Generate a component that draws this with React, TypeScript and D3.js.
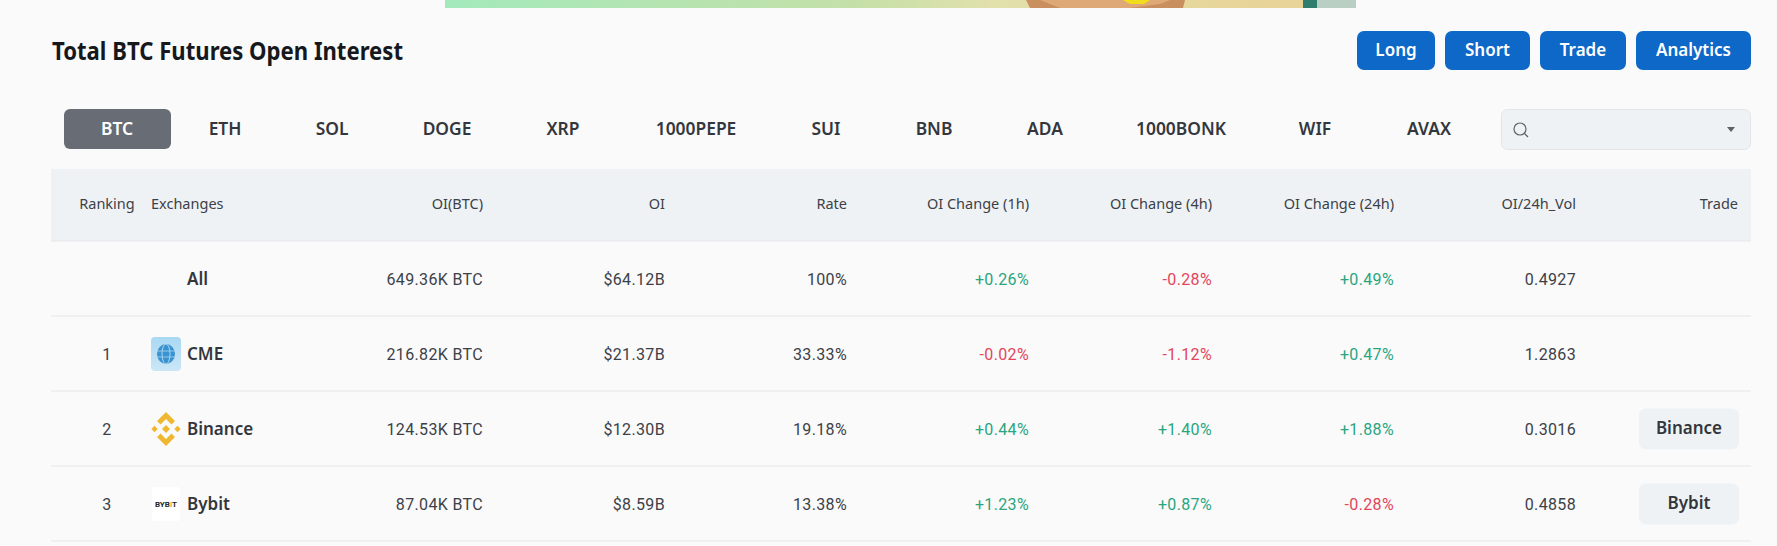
import React from "react";
import * as d3 from "d3";

const W = 1777, H = 546;
const actions = ["Long", "Short", "Trade", "Analytics"];
const actionEdges = [[1357, 1435], [1445, 1530], [1540, 1626], [1636, 1751]];
const coins = ["BTC", "ETH", "SOL", "DOGE", "XRP", "1000PEPE", "SUI", "BNB", "ADA", "1000BONK", "WIF", "AVAX"];
const coinCentres = [117, 225, 332, 447, 563, 696, 826, 934, 1045, 1181, 1315, 1429];
const headers = ["OI(BTC)", "OI", "Rate", "OI Change (1h)", "OI Change (4h)", "OI Change (24h)", "OI/24h_Vol"];
const exchanges = ["All", "CME", "Binance", "Bybit"];
const ranks = ["", "1", "2", "3"];
const oiBtc = ["649.36K BTC", "216.82K BTC", "124.53K BTC", "87.04K BTC"];
const oiUsd = ["$64.12B", "$21.37B", "$12.30B", "$8.59B"];
const rate = ["100%", "33.33%", "19.18%", "13.38%"];
const change1h = [0.26, -0.02, 0.44, 1.23];
const change4h = [-0.28, -1.12, 1.4, 0.87];
const change24h = [0.49, 0.47, 1.88, -0.28];
const oiVol = ["0.4927", "1.2863", "0.3016", "0.4858"];
const tradeLinks = ["", "", "Binance", "Bybit"];

const colRight = d3.scaleOrdinal<string, number>().domain(headers).range([483, 665, 847, 1029, 1212, 1394, 1576]);
const rowY = d3.scaleBand<string>().domain(exchanges).range([241, 541]);
const UI = "'Noto Sans', sans-serif";
const NUM = "Roboto, sans-serif";
const fmt = (v: number) => (v >= 0 ? "+" : "") + v.toFixed(2) + "%";
const GREEN = "#2aa57f", RED = "#e2465a", TEXT = "#3c4148";
const BG = "#fafafa";

function Cme({ x, y }: { x: number; y: number }) {
  return (
    <g transform={`translate(${x},${y})`}>
      <rect x={0} y={-17} width={30} height={34} rx={4} fill="url(#cmeBg)" />
      <ellipse cx={15} cy={0} rx={9} ry={10} fill="#3a93d0" />
      <ellipse cx={15} cy={0} rx={4} ry={10} fill="none" stroke="#a9d6f0" strokeWidth={1} />
      <line x1={6} x2={24} y1={-3} y2={-3} stroke="#a9d6f0" strokeWidth={0.8} />
      <line x1={6} x2={24} y1={3} y2={3} stroke="#a9d6f0" strokeWidth={0.8} />
    </g>
  );
}
function BinanceIcon({ x, y }: { x: number; y: number }) {
  const c = "#f0b731";
  return (
    <g transform={`translate(${x + 15},${y})`} fill={c}>
      <path d="M0,-17 L9,-8 L5.5,-4.5 L0,-10 L-5.5,-4.5 L-9,-8 Z" />
      <path d="M0,17 L9,8 L5.5,4.5 L0,10 L-5.5,4.5 L-9,8 Z" />
      <path d="M0,-4 L4,0 L0,4 L-4,0 Z" />
      <path d="M-11.5,-3.2 L-8.3,0 L-11.5,3.2 L-14.7,0 Z" />
      <path d="M11.5,-3.2 L14.7,0 L11.5,3.2 L8.3,0 Z" />
    </g>
  );
}
function BybitIcon({ x, y }: { x: number; y: number }) {
  return (
    <g transform={`translate(${x},${y})`}>
      <rect x={1} y={-17} width={28} height={34} rx={3} fill="#ffffff" />
      <text x={15} y={3} textAnchor="middle" fontFamily={NUM} fontWeight={700} fontSize={8} fill="#1d1f22">
        BYB<tspan fill="#f7a600">I</tspan>T
      </text>
    </g>
  );
}

export default function App() {
  React.useEffect(() => {
    document.body.style.margin = "0";
    document.body.style.background = BG;
  }, []);
  const rightCols: [string, string[]][] = [
    [headers[0], oiBtc],
    [headers[1], oiUsd],
    [headers[2], rate],
  ];
  const chgCols: [string, number[]][] = [
    [headers[3], change1h],
    [headers[4], change4h],
    [headers[5], change24h],
  ];
  const numStyle = { letterSpacing: "0.35px" };
  return (
    <svg width={W} height={H} style={{ display: "block" }} xmlns="http://www.w3.org/2000/svg">
      <defs>
        <linearGradient id="banner" x1="0" x2="1" y1="0" y2="0">
          <stop offset="0" stopColor="#a3e9bb" />
          <stop offset="0.45" stopColor="#c4e0a8" />
          <stop offset="0.6" stopColor="#e2e0ac" />
          <stop offset="0.9" stopColor="#e8d498" />
          <stop offset="1" stopColor="#e8d498" />
        </linearGradient>
        <linearGradient id="cmeBg" x1="0" x2="0" y1="0" y2="1">
          <stop offset="0" stopColor="#a9d8f3" />
          <stop offset="1" stopColor="#cbe7f7" />
        </linearGradient>
      </defs>
      <rect width={W} height={H} fill={BG} />

      <rect x={445} y={0} width={911} height={8} fill="url(#banner)" />
      <path d="M1026,0 L1185,0 L1183,8 L1030,8 Z" fill="#c98f5e" />
      <path d="M1040,0 L1170,0 L1160,4 L1130,8 L1060,8 Z" fill="#dfa877" />
      <path d="M1123,0 L1150,0 L1144,4 L1130,4 Z" fill="#f2dc1e" />
      <rect x={1303} y={0} width={14} height={8} fill="#2f7d6d" />
      <rect x={1317} y={0} width={39} height={8} fill="#b9cfc4" />

      <text x={52} y={60} fontFamily={UI} fontWeight={700} fontSize={24.5} fill="#16181c" textLength={351} lengthAdjust="spacingAndGlyphs">Total BTC Futures Open Interest</text>

      {actions.map((a, i) => (
        <g key={a}>
          <rect x={actionEdges[i][0]} y={31} width={actionEdges[i][1] - actionEdges[i][0]} height={39} rx={7} fill="#0d68c8" />
          <text x={(actionEdges[i][0] + actionEdges[i][1]) / 2} y={56} textAnchor="middle" fontFamily={UI} fontWeight={600} fontSize={17} fill="#fff">{a}</text>
        </g>
      ))}

      <rect x={64} y={109} width={107} height={40} rx={6} fill="#676c75" />
      {coins.map((c, i) => (
        <text key={c} x={coinCentres[i]} y={135} textAnchor="middle" fontFamily={UI} fontWeight={600} fontSize={17.4} fill={i === 0 ? "#fff" : "#33373d"}>{c}</text>
      ))}

      <rect x={1501.5} y={109.5} width={249} height={40} rx={6} fill="#eff2f5" stroke="#e2e6ea" />
      <circle cx={1520} cy={129} r={6} fill="none" stroke="#5c6168" strokeWidth={1.2} />
      <line x1={1524.5} y1={133.5} x2={1528} y2={137} stroke="#5c6168" strokeWidth={1.2} />
      <path d="M1727,127 L1735,127 L1731,132 Z" fill="#5c6168" />

      <rect x={51} y={169} width={1700} height={72} fill="#eff2f5" />
      <line x1={51} x2={1751} y1={241} y2={241} stroke="#e4e6e9" />
      <text x={107} y={209} textAnchor="middle" fontFamily={UI} fontSize={14.5} fill={TEXT}>Ranking</text>
      <text x={151} y={209} fontFamily={UI} fontSize={14.5} fill={TEXT}>Exchanges</text>
      {headers.map((h) => (
        <text key={h} x={colRight(h)} y={209} textAnchor="end" fontFamily={UI} fontSize={14.5} fill={TEXT}>{h}</text>
      ))}
      <text x={1738} y={209} textAnchor="end" fontFamily={UI} fontSize={14.5} fill={TEXT}>Trade</text>

      {exchanges.map((ex, r) => {
        const top = rowY(ex)!;
        const cy = top + rowY.bandwidth() / 2 + 0.5;
        const base = cy + 5.5;
        const bottom = top + rowY.bandwidth();
        return (
          <g key={ex}>
            <line x1={51} x2={1751} y1={bottom} y2={bottom} stroke="#e4e6e9" />
            {ranks[r] && <text x={107} y={base} textAnchor="middle" fontFamily={NUM} fontSize={16} fill={TEXT} style={numStyle}>{ranks[r]}</text>}
            {ex === "CME" && <Cme x={151} y={cy} />}
            {ex === "Binance" && <BinanceIcon x={151} y={cy} />}
            {ex === "Bybit" && <BybitIcon x={151} y={cy} />}
            <text x={187} y={base} fontFamily={UI} fontWeight={600} fontSize={17} fill="#33373d">{ex}</text>
            {rightCols.map(([h, vals]) => (
              <text key={h} x={colRight(h)} y={base} textAnchor="end" fontFamily={NUM} fontSize={16} fill={TEXT} style={numStyle}>{vals[r]}</text>
            ))}
            {chgCols.map(([h, vals]) => (
              <text key={h} x={colRight(h)} y={base} textAnchor="end" fontFamily={NUM} fontSize={16} fill={vals[r] >= 0 ? GREEN : RED} style={numStyle}>{fmt(vals[r])}</text>
            ))}
            <text x={colRight(headers[6])} y={base} textAnchor="end" fontFamily={NUM} fontSize={16} fill={TEXT} style={numStyle}>{oiVol[r]}</text>
            {tradeLinks[r] && (
              <g>
                <rect x={1639} y={cy - 20.5} width={100} height={41} rx={7} fill="#eff2f5" />
                <text x={1689} y={base - 1} textAnchor="middle" fontFamily={UI} fontWeight={600} fontSize={17} fill="#33373d">{tradeLinks[r]}</text>
              </g>
            )}
          </g>
        );
      })}
    </svg>
  );
}
